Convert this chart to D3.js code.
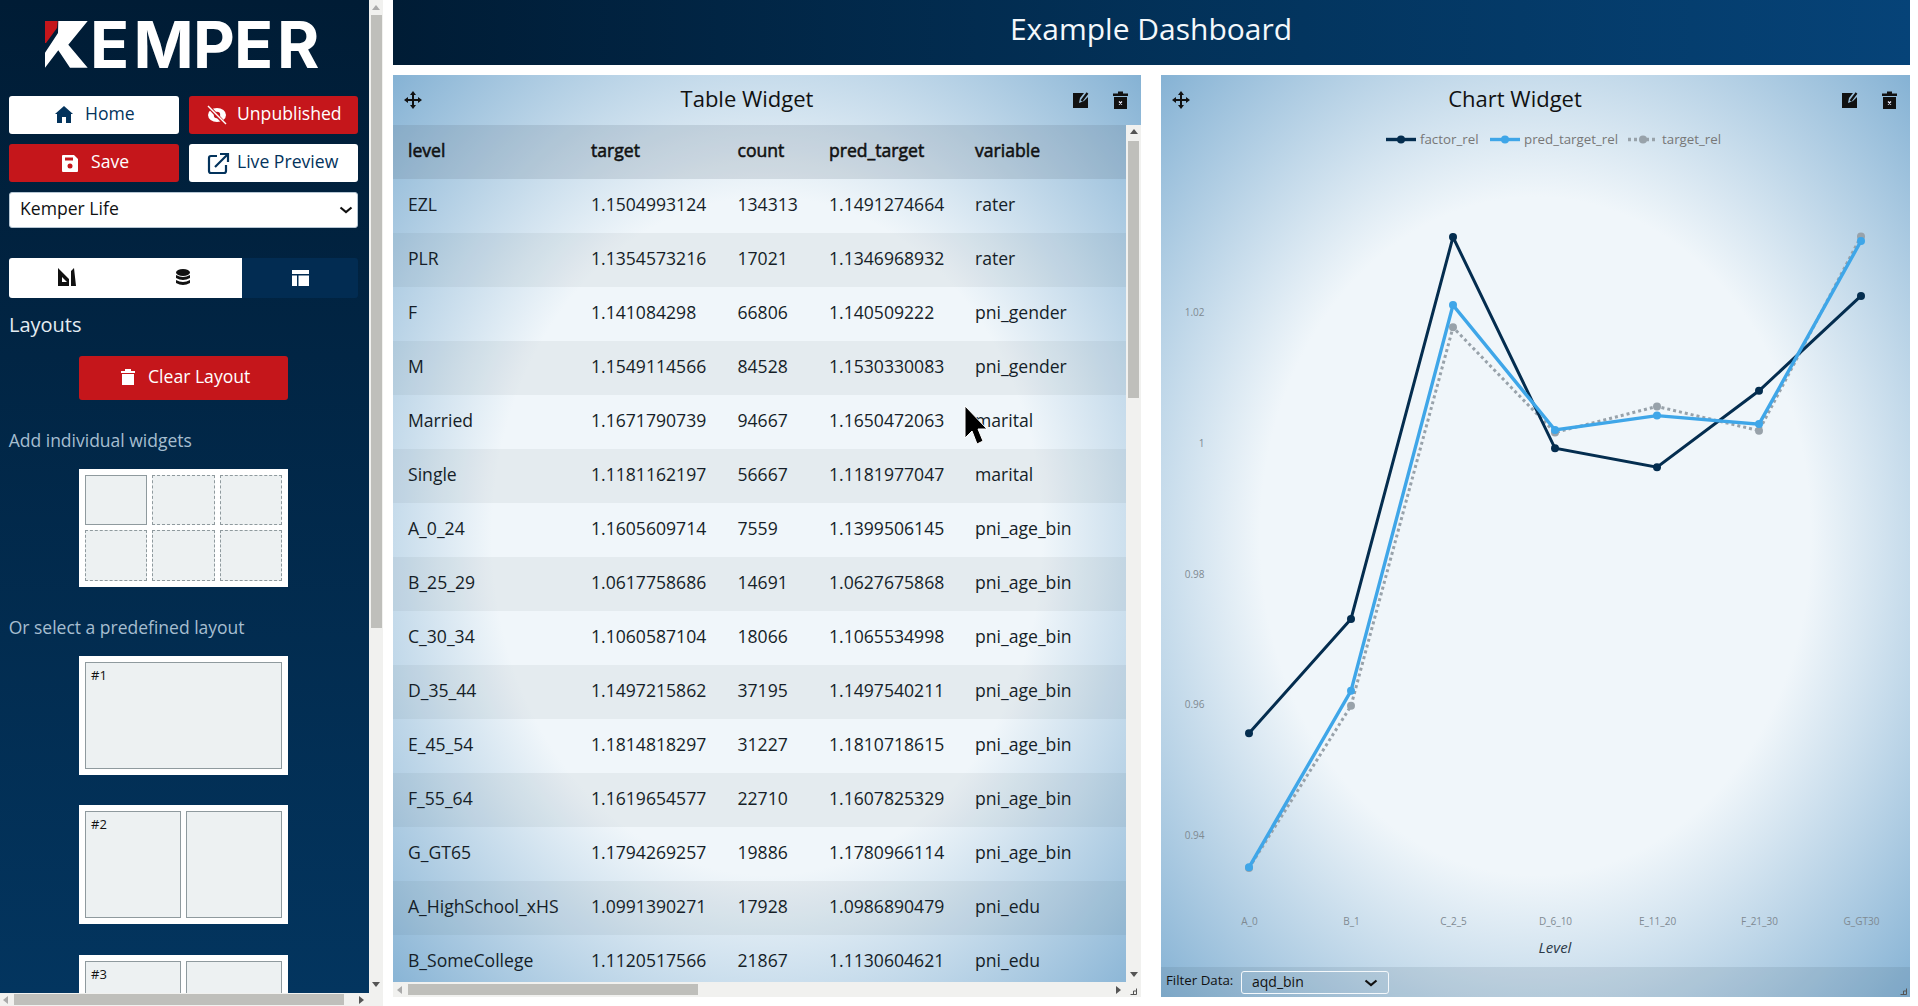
<!DOCTYPE html>
<html><head><meta charset="utf-8">
<script src="https://cdn.jsdelivr.net/npm/d3@7"></script>
<style>
html,body{margin:0;padding:0;width:1918px;height:1006px;overflow:hidden;background:#fff;font-family:"Open Sans",sans-serif;}
.a{position:absolute;box-sizing:border-box;}
.t{position:absolute;white-space:nowrap;transform:translateY(-50%);line-height:1;}
svg{position:absolute;overflow:visible;}
</style></head><body>
<script>
// ---------- data ----------
const tableColumns = ["level","target","count","pred_target","variable"];
const levels = ["EZL","PLR","F","M","Married","Single","A_0_24","B_25_29","C_30_34","D_35_44","E_45_54","F_55_64","G_GT65","A_HighSchool_xHS","B_SomeCollege"];
const targets = ["1.1504993124","1.1354573216","1.141084298","1.1549114566","1.1671790739","1.1181162197","1.1605609714","1.0617758686","1.1060587104","1.1497215862","1.1814818297","1.1619654577","1.1794269257","1.0991390271","1.1120517566"];
const counts = ["134313","17021","66806","84528","94667","56667","7559","14691","18066","37195","31227","22710","19886","17928","21867"];
const preds = ["1.1491274664","1.1346968932","1.140509222","1.1530330083","1.1650472063","1.1181977047","1.1399506145","1.0627675868","1.1065534998","1.1497540211","1.1810718615","1.1607825329","1.1780966114","1.0986890479","1.1130604621"];
const variables = ["rater","rater","pni_gender","pni_gender","marital","marital","pni_age_bin","pni_age_bin","pni_age_bin","pni_age_bin","pni_age_bin","pni_age_bin","pni_age_bin","pni_edu","pni_edu"];
const chartCategories = ["A_0","B_1","C_2_5","D_6_10","E_11_20","F_21_30","G_GT30"];
const factorRel = [0.9556,0.9731,1.0315,0.9992,0.9963,1.0080,1.0225];
const predTargetRel = [0.9351,0.9621,1.0211,1.0020,1.0042,1.0029,1.0309];
const targetRel = [0.9350,0.9598,1.0177,1.0016,1.0056,1.0019,1.0316];
const yTicks = [0.94,0.96,0.98,1,1.02];
// ---------- helpers ----------
const body = d3.select("body");
const NAVY="#03335c", RED="#c5161b";
function box(x,y,w,h,css){const d=body.append("div").attr("class","a").style("left",x+"px").style("top",y+"px").style("width",w+"px").style("height",h+"px");if(css)d.attr("style",d.attr("style")+";"+css);return d;}
function text(s,x,cy,size,color,extra){const d=body.append("div").attr("class","t").style("left",x+"px").style("top",cy+"px").style("font-size",size+"px").style("color",color).text(s);if(extra)d.attr("style",d.attr("style")+";"+extra);return d;}
function svgAt(x,y,w,h){return body.append("svg").style("left",x+"px").style("top",y+"px").attr("width",w).attr("height",h).attr("viewBox",`0 0 ${w} ${h}`);}
function chevron(x,y,color){svgAt(x-7,y-4,14,8).append("path").attr("d","M1.5 1.5 L7 6 L12.5 1.5").attr("fill","none").attr("stroke",color||"#111").attr("stroke-width",2.2);}
function iconMove(x,y){const s=svgAt(x-10,y-10,20,20);s.append("path").attr("d","M10 1 L13 5 H11 V9 H15 V7 L19 10 L15 13 V11 H11 V15 H13 L10 19 L7 15 H9 V11 H5 V13 L1 10 L5 7 V9 H9 V5 H7 Z").attr("fill","#111");}
function iconEdit(x,y){const s=svgAt(x-8,y-8,16,16);const g=s.append("g");g.append("path").attr("d","M0 1 H11 L7 6 L6 11 L11 9 L15 5 V16 H0 Z").attr("fill","#111");g.append("path").attr("d","M8.5 9 L14.5 1").attr("stroke","#111").attr("stroke-width",2.2);}
function iconTrash(x,y){const s=svgAt(x-7.5,y-9,15,18);s.append("path").attr("d","M5 2.5 V0.5 H10 V2.5 H15 V5 H0 V2.5 Z M1 6 H14 V18 H1 Z").attr("fill","#111");s.append("path").attr("d","M6 10.5 L9 13.5 M9 10.5 L6 13.5").attr("stroke","#eef").attr("stroke-width",1.2);}
function triangle(x,y,dir,color){const m={u:"M0 -3 L4 2 L-4 2 Z",d:"M0 3 L4 -2 L-4 -2 Z",l:"M-3 0 L2 -4 L2 4 Z",r:"M3 0 L-2 -4 L-2 4 Z"};svgAt(x,y,1,1).append("path").attr("d",m[dir]).attr("fill",color||"#555");}
// ---------- sidebar ----------
box(0,0,369,993,"background:linear-gradient(180deg,#001c35 0%,#03355f 100%);overflow:hidden");
box(369,0,14,993,"background:#f1f1ef");
box(370.5,15,11,613,"background:#bfbfbb");
triangle(376,8,"u","#aaa"); triangle(376,984,"d","#555");
box(0,993,383,13,"background:#f1f1ef");
box(14,994,330,11,"background:#bfbfbb");
triangle(6,1000,"l","#aaa"); triangle(361,1000,"r","#555");
// logo
const logo=svgAt(0,0,369,90);
logo.append("path").attr("d","M45 21 H57.7 L57 28 L46 43 H45 Z").attr("fill",RED);
logo.append("path").attr("d","M58.3 21 H87.7 L68.3 44.7 L87.7 67.7 H70 L58.3 50.3 L45 67.7 V52.7 L58 33 Z").attr("fill","#fff");
const lt=logo.append("text").attr("y",67.7).attr("font-family","Inter").attr("font-weight",700).attr("font-size",64.6);
lt.append("tspan").attr("x",45).attr("fill","transparent").text("K");
lt.append("tspan").attr("x","90 133.5 193 234 277").attr("fill","#fff").text("EMPER");
// buttons
const WHITE="#fff";
box(9,96,170,38,`background:${WHITE};border-radius:3px`);
box(189,96,169,38,`background:${RED};border-radius:3px`);
box(9,144,170,38,`background:${RED};border-radius:3px`);
box(189,144,169,38,`background:${WHITE};border-radius:3px`);
box(9,192,349,36,"background:#fff;border-radius:3px;border:1px solid #b6c6d3");
text("Home",85,114,17.6,NAVY); text("Unpublished",237,114,17.6,"#fff"); text("Save",91,162,17.6,"#fff"); text("Live Preview",237,162,17.6,NAVY);
text("Kemper Life",20,208.5,17.6,"#111"); chevron(346,210);
let ic=svgAt(55,106,18,18); ic.append("path").attr("d","M9 0 L18 8 H16 V17 H11 V11 H7 V17 H2 V8 H0 Z").attr("fill",NAVY);
ic=svgAt(207,105,20,20); ic.append("ellipse").attr("cx",10).attr("cy",10).attr("rx",9).attr("ry",7).attr("fill","#fff"); ic.append("circle").attr("cx",10).attr("cy",10).attr("r",3.2).attr("fill",RED); ic.append("path").attr("d","M2 2 L18 19").attr("stroke",RED).attr("stroke-width",3.5); ic.append("path").attr("d","M1 1 L19 19").attr("stroke","#fff").attr("stroke-width",1.5);
ic=svgAt(62,155,16,17); ic.append("path").attr("d","M1 0 H12 L16 4 V16 Q16 17 15 17 H1 Q0 17 0 16 V1 Q0 0 1 0 Z").attr("fill","#fff"); ic.append("circle").attr("cx",8).attr("cy",11).attr("r",2.5).attr("fill",RED); ic.append("rect").attr("x",3).attr("y",2.5).attr("width",8).attr("height",3).attr("fill",RED);
ic=svgAt(208,153,21,21); ic.append("path").attr("d","M9 3 H3 Q1 3 1 5 V18 Q1 20 3 20 H16 Q18 20 18 18 V12 M7 14 L20 1 M12 1 H20 V9").attr("fill","none").attr("stroke",NAVY).attr("stroke-width",2.2);
// tabs
box(9,258,233,40,"background:#fff;border-radius:3px 0 0 3px");
box(242,258,116,40,"background:#022c52;border-radius:0 3px 3px 0");
ic=svgAt(58,268,19,19); ic.append("path").attr("d","M0 0 L11 11 V18 H0 Z M4 9 V14 H9 Z M13 3 L16 0 L18 18 H13 Z").attr("fill","#111").attr("fill-rule","evenodd");
ic=svgAt(176,269,14,17); ic.append("ellipse").attr("cx",7).attr("cy",3.5).attr("rx",7).attr("ry",3.5).attr("fill","#111"); ic.append("path").attr("d","M0 6 Q7 10 14 6 V9 Q7 13 0 9 Z M0 11 Q7 15 14 11 V14 Q7 18 0 14 Z").attr("fill","#111");
ic=svgAt(292,270,17,16); ic.append("path").attr("d","M0 0 H17 V4 H0 Z M0 5.5 H5 V16 H0 Z M6.5 5.5 H17 V16 H6.5 Z").attr("fill","#fff");
text("Layouts",9,325,20,"#e4ecf2");
box(79,356,209,44,`background:${RED};border-radius:3px`);
text("Clear Layout",148,377,17.6,"#fff");
ic=svgAt(121,369,14,16); ic.append("path").attr("d","M4 2 V0 H10 V2 H14 V4 H0 V2 Z M1 5 H13 V16 H1 Z").attr("fill","#fff");
text("Add individual widgets",8.7,441,17.5,"#a6bed0");
text("Or select a predefined layout",8.7,627.5,17.5,"#a6bed0");
// layout previews
const PCELL="background:#edf1f2;";
box(79,469,209,118,"background:#fff");
[[85,475,61.5,50,0],[152,475,62.5,50,1],[220,475,62,50,1],[85,530,61.5,51,1],[152,530,62.5,51,1],[220,530,62,51,1]].forEach(c=>box(c[0],c[1],c[2],c[3],PCELL+`border:1px ${c[4]?"dashed #8f9a9e":"solid #8f9a9e"}`));
box(79,656,209,119,"background:#fff");
box(85,662,197,107,PCELL+"border:1px solid #8f9a9e");
text("#1",91,675,13,"#111");
box(79,805,209,119,"background:#fff");
box(85,811,96,107,PCELL+"border:1px solid #8f9a9e"); box(186,811,96,107,PCELL+"border:1px solid #8f9a9e");
text("#2",91,824,13,"#111");
box(79,954.5,209,38.5,"background:#fff");
box(85,960.5,96,32.5,PCELL+"border:1px solid #8f9a9e;border-bottom:0"); box(186,960.5,96,32.5,PCELL+"border:1px solid #8f9a9e;border-bottom:0");
text("#3",91,973.5,13,"#111");
// ---------- header ----------
box(393,0,1517,65,"background:linear-gradient(90deg,#001c35 0%,#03355f 60%,#064378 100%)");
text("Example Dashboard",1151,29,30,"#f4f8fb","transform:translate(-50%,-50%)");
// ---------- table widget ----------
const GRAD="background:radial-gradient(ellipse farthest-corner at center,#f0f6fa 0%,#f0f6fa 52%,#85b2d4 100%)";
box(393,75,748,922,GRAD);
text("Table Widget",747,98,22,"#111","transform:translate(-50%,-50%)");
iconMove(413,100); iconEdit(1081,100); iconTrash(1120.5,100);
box(393,125,733,54,"background:rgba(95,110,125,.18)");
const colX={level:408,target:591,count:737.5,pred_target:829,variable:975};
tableColumns.forEach(c=>text(c,colX[c],151,17.6,"#111","-webkit-text-stroke:.55px #111"));
const tableRows=levels.map((l,i)=>({level:l,target:targets[i],count:counts[i],pred_target:preds[i],variable:variables[i]}));
tableRows.forEach((r,i)=>{
  const y=179+54*i, h=Math.min(54,982-y);
  if(i%2===1) box(393,y,733,h,"background:rgba(40,50,60,.055)");
  tableColumns.forEach(c=>text(r[c],colX[c],y+26,17.6,"#151e28"));
});
box(1126,125,15,872,"background:#f1f1ef");
box(1128,141,11,257,"background:#bfbfbb");
triangle(1133.5,132,"u","#555"); triangle(1133.5,974,"d","#555");
box(393,982,748,15,"background:#f1f1ef");
box(408,984,290,11,"background:#bfbfbb");
triangle(400,989.5,"l","#aaa"); triangle(1118,989.5,"r","#555");
function grip(x,y){svgAt(x,y,8,8).append("path").attr("d","M6.5 0.5 V6.5 H0.5 M6.5 3 H3.5 V6.5").attr("fill","none").attr("stroke","#555").attr("stroke-width",1);}
grip(1130,988);
// ---------- chart widget ----------
box(1161,75,749,922,GRAD);
text("Chart Widget",1515,98,22,"#111","transform:translate(-50%,-50%)");
iconMove(1181,100); iconEdit(1849.5,100); iconTrash(1889,100);
const chart=svgAt(1161,75,749,922);
const x=d3.scalePoint().domain(chartCategories).range([88,700]);
const y=d3.scaleLinear().domain([0.94,1.02]).range([760.3,237.3]);
const xAxis=chart.append("g").attr("transform","translate(0,837.5)").call(d3.axisBottom(x).tickSize(0).tickPadding(5));
const yAxis=chart.append("g").attr("transform","translate(43.5,0)").call(d3.axisLeft(y).tickValues(yTicks).tickSize(0).tickPadding(0).tickFormat(d=>String(+d.toFixed(2))));
[xAxis,yAxis].forEach(g=>{g.select(".domain").remove();g.selectAll("text").attr("fill","#7f8a92").attr("font-family","Open Sans").attr("font-size",10);});
chart.append("text").attr("x",x("D_6_10")).attr("y",878).attr("text-anchor","middle").attr("font-family","Open Sans").attr("font-style","italic").attr("font-size",15).attr("fill","#2b3a48").text("Level");
const series=[
 {name:"target_rel",values:targetRel,color:"#98a2aa",w:3,dash:"3 3",r:4},
 {name:"factor_rel",values:factorRel,color:"#042d4f",w:3,dash:null,r:4},
 {name:"pred_target_rel",values:predTargetRel,color:"#3fa6e8",w:3.4,dash:null,r:4}
];
const line=d3.line().x((d,i)=>x(chartCategories[i])).y(d=>y(d));
series.forEach(s=>{
  chart.append("path").attr("d",line(s.values)).attr("fill","none").attr("stroke",s.color).attr("stroke-width",s.w).attr("stroke-dasharray",s.dash);
  chart.selectAll(null).data(s.values).enter().append("circle").attr("cx",(d,i)=>x(chartCategories[i])).attr("cy",d=>y(d)).attr("r",s.r).attr("fill",s.color);
});
// legend
const legend=[["factor_rel","#042d4f",null,225,259],["pred_target_rel","#3fa6e8",null,329,363],["target_rel","#98a2aa","3 3",467,501]];
legend.forEach(l=>{
  const g=chart.append("g").attr("transform",`translate(${l[3]},64.5)`);
  g.append("line").attr("x1",0).attr("x2",30).attr("stroke",l[1]).attr("stroke-width",3.4).attr("stroke-dasharray",l[2]);
  g.append("circle").attr("cx",15).attr("r",4).attr("fill",l[1]);
  chart.append("text").attr("x",l[4]).attr("y",69).attr("font-family","Open Sans").attr("font-size",13.3).attr("fill","#777").text(l[0]);
});
// filter strip
box(1161,967,749,30,"background:rgba(60,80,100,.12)");
text("Filter Data:",1166,981,13.3,"#111");
box(1241,971,148,23,"border:1px solid #f4f8fb;border-radius:3px");
text("aqd_bin",1252,982,14,"#111"); chevron(1371,983);
grip(1900,988);
// mouse cursor in screenshot
svgAt(959,401,32,46).append("path").attr("d","M6 5 V37 L13 30 L18 43 L24 40 L19 28 L28 28 Z").attr("fill","#000").attr("stroke","#fff").attr("stroke-width",1);
</script>
</body></html>
